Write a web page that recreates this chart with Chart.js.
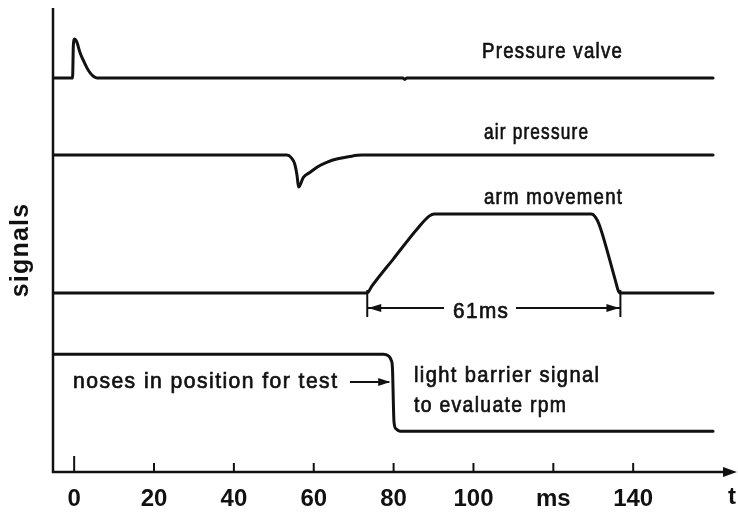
<!DOCTYPE html>
<html><head><meta charset="utf-8">
<script src="https://cdn.jsdelivr.net/npm/chart.js@4.4.1/dist/chart.umd.min.js"></script>
<style>html,body{margin:0;padding:0;background:#fff}canvas{display:block}</style>
</head><body>
<canvas id="c" width="738" height="514"></canvas>
<script>
// ---- data (time in ms, signal in arbitrary units 0..100) ----
const xTicks = [0, 20, 40, 60, 80, 100, 120, 140];
const xTickLabels = ['0', '20', '40', '60', '80', '100', 'ms', '140'];

const timeValve   = [-5.3, -0.4, -0.2, 0.1, 0.6, 1.5, 2.3, 3.2, 4.0, 4.8, 5.8, 82.3, 82.8, 83.3, 160];
const valveSignal = [84.9, 84.9, 92.0, 93.3, 92.8, 90.3, 88.7, 87.1, 86.0, 85.3, 84.9, 84.9, 84.6, 84.9, 84.9];

const timeAir   = [-5.3, 53.3, 54.4, 55.2, 55.8, 56.2, 57.4, 59.1, 61.0, 63.4, 66.0, 69.0, 72.0, 160];
const airSignal = [68.3, 68.3, 67.7, 66.5, 64.0, 61.4, 63.5, 64.6, 65.8, 66.8, 67.5, 68.0, 68.3, 68.3];

const timeArm   = [-5.3, 73.4, 74.5, 80.0, 86.0, 89.0, 90.2, 129.5, 130.5, 131.5, 135.5, 136.3, 136.8, 160];
const armSignal = [38.6, 38.6, 40.0, 46.0, 52.5, 55.2, 55.6, 55.6, 55.0, 53.3, 41.4, 39.0, 38.6, 38.6];

const timeLight   = [-5.3, 77.4, 78.6, 79.4, 79.7, 80.1, 80.6, 81.6, 160];
const lightSignal = [25.4, 25.4, 25.1, 24.1, 22.6, 10.8, 9.3, 8.8, 8.8];

const seriesLabels = ['Pressure valve', 'air pressure', 'arm movement', 'light barrier signal'];

const INK = '#111';
const FONT = '"Liberation Sans", Arial, sans-serif';

function pts(t, v) { return t.map((x, i) => ({ x, y: v[i] })); }

// draws condensed, letter-spaced lettering that spans width w
function fitText(ctx, str, x, yb, w, size) {
  const ls = 1.5;
  ctx.font = size + 'px ' + FONT;
  ctx.letterSpacing = ls + 'px';
  const m = ctx.measureText(str).width - ls;
  ctx.save();
  ctx.translate(x, yb);
  ctx.scale(w / m, 1);
  ctx.textAlign = 'left';
  ctx.textBaseline = 'alphabetic';
  ctx.fillText(str, 0, 0);
  ctx.lineWidth = 0.7;
  ctx.strokeText(str, 0, 0);
  ctx.restore();
  ctx.letterSpacing = '0px';
}

const deco = {
  id: 'deco',
  afterDraw(chart) {
    const { ctx, chartArea: a, scales: { x } } = chart;
    ctx.save();
    ctx.strokeStyle = INK; ctx.fillStyle = INK;
    ctx.lineCap = 'butt'; ctx.lineJoin = 'miter';
    // axes
    ctx.lineWidth = 2.5;
    ctx.beginPath();
    ctx.moveTo(a.left, a.top); ctx.lineTo(a.left, a.bottom); ctx.lineTo(a.right - 10, a.bottom);
    ctx.stroke();
    ctx.beginPath();
    ctx.moveTo(a.right, a.bottom); ctx.lineTo(a.right - 14, a.bottom - 5); ctx.lineTo(a.right - 14, a.bottom + 5);
    ctx.closePath(); ctx.fill();
    // tick marks (inside)
    ctx.lineWidth = 2;
    xTicks.forEach((v, i) => {
      const px = x.getPixelForValue(v);
      ctx.beginPath(); ctx.moveTo(px, a.bottom); ctx.lineTo(px, a.bottom - (i === 0 ? 16 : 9)); ctx.stroke();
    });
    // "t" at the end of the time axis
    ctx.font = 'bold 24px ' + FONT;
    ctx.textAlign = 'center'; ctx.textBaseline = 'top';
    ctx.fillText('t', 732, a.bottom + 13);

    // y title
    ctx.save();
    ctx.translate(21, 250);
    ctx.rotate(-Math.PI / 2);
    ctx.font = 'bold 25px ' + FONT;
    ctx.letterSpacing = '1.2px';
    ctx.textAlign = 'center'; ctx.textBaseline = 'middle';
    ctx.fillText('signals', 0, 0);
    ctx.restore();

    // series labels
    const fs = 22;
    fitText(ctx, seriesLabels[0], 482, 58, 140, fs);
    fitText(ctx, seriesLabels[1], 484, 139, 104, fs);
    fitText(ctx, seriesLabels[2], 484, 204, 138, fs);
    fitText(ctx, 'noses in position for test', 73, 388, 264, fs);
    fitText(ctx, seriesLabels[3], 414, 382, 185, fs);
    fitText(ctx, 'to evaluate rpm', 414, 412, 152, fs);

    // dimension line for arm movement duration
    const x1 = x.getPixelForValue(timeArm[1]);
    const x2 = x.getPixelForValue(timeArm[12]);
    const yd = 308;
    ctx.lineWidth = 2;
    ctx.beginPath();
    ctx.moveTo(x1, 290); ctx.lineTo(x1, 317);
    ctx.moveTo(x2, 290); ctx.lineTo(x2, 317);
    ctx.moveTo(x1, yd); ctx.lineTo(444, yd);
    ctx.moveTo(516, yd); ctx.lineTo(x2, yd);
    ctx.stroke();
    ctx.beginPath();
    ctx.moveTo(x1 + 1, yd); ctx.lineTo(x1 + 14, yd - 4); ctx.lineTo(x1 + 14, yd + 4); ctx.closePath();
    ctx.moveTo(x2 - 1, yd); ctx.lineTo(x2 - 14, yd - 4); ctx.lineTo(x2 - 14, yd + 4); ctx.closePath();
    ctx.fill();
    fitText(ctx, '61ms', 453, 318, 55, fs);

    // arrow pointing at the light barrier edge
    const xe = x.getPixelForValue(timeLight[3]);
    const ya = 382;
    ctx.lineWidth = 2;
    ctx.beginPath(); ctx.moveTo(350, ya); ctx.lineTo(xe - 2, ya); ctx.stroke();
    ctx.beginPath();
    ctx.moveTo(xe - 1, ya); ctx.lineTo(xe - 13, ya - 4); ctx.lineTo(xe - 13, ya + 4); ctx.closePath(); ctx.fill();
    ctx.restore();
  }
};

const ds = (label, t, v) => ({
  label, data: pts(t, v), borderColor: INK, borderWidth: 3, pointRadius: 0,
  cubicInterpolationMode: 'monotone', fill: false, borderJoinStyle: 'round', borderCapStyle: 'round'
});

new Chart(document.getElementById('c'), {
  type: 'line',
  data: {
    datasets: [
      ds(seriesLabels[0], timeValve, valveSignal),
      ds(seriesLabels[1], timeAir, airSignal),
      ds(seriesLabels[2], timeArm, armSignal),
      ds(seriesLabels[3], timeLight, lightSignal)
    ]
  },
  options: {
    responsive: false,
    devicePixelRatio: 1,
    animation: false,
    layout: { padding: { left: 53, right: 1, top: 8, bottom: 0 } },
    plugins: { legend: { display: false }, tooltip: { enabled: false } },
    scales: {
      x: {
        type: 'linear', min: -5.3, max: 166,
        grid: { display: false, drawTicks: false },
        border: { display: false },
        afterBuildTicks: s => { s.ticks = xTicks.map(v => ({ value: v })); },
        afterFit: s => { s.height = 42; },
        ticks: {
          color: INK, padding: 13, maxRotation: 0, autoSkip: false,
          font: { family: FONT, size: 24, weight: 'bold' },
          callback: v => xTickLabels[xTicks.indexOf(v)] ?? ''
        }
      },
      y: { type: 'linear', min: 0, max: 100, display: false }
    }
  },
  plugins: [deco]
});
</script>
</body></html>
